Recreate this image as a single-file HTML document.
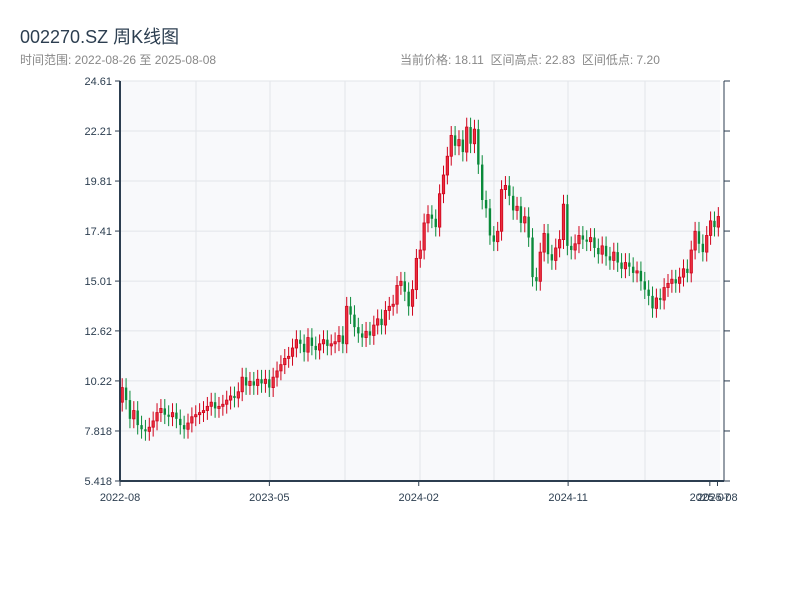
<!DOCTYPE html>
<html><head><meta charset="utf-8">
<style>
body{margin:0;background:#fff;font-family:"Liberation Sans","Noto Sans CJK SC",sans-serif;}
#wrap{position:relative;width:800px;height:600px;overflow:hidden;}
.t{position:absolute;white-space:nowrap;}
</style></head>
<body>
<div id="wrap">
<div class="t" style="left:20px;top:23px;font-size:18px;color:#2c3e50;">002270.SZ 周K线图</div>
<div class="t" style="left:20px;top:51px;font-size:12px;color:#888;">时间范围: 2022-08-26 至 2025-08-08</div>
<div class="t" style="left:400px;top:51px;font-size:12px;color:#888;">当前价格: 18.11&nbsp;&nbsp;区间高点: 22.83&nbsp;&nbsp;区间低点: 7.20</div>
<svg id="chart" width="800" height="600" style="position:absolute;left:0;top:0"></svg>
</div>
<script>
const dates=["2022-08","2023-05","2024-02","2024-11","2025-07","2025-08"];
const dateIdx=[0,39,78,117,154,156];
const yTicks=[5.418,7.818,10.22,12.62,15.01,17.41,19.81,22.21,24.61];
const closes=[9.9,9.3,8.4,8.8,8.1,7.9,7.8,8.0,8.3,8.7,
8.9,8.6,8.5,8.7,8.4,8.1,7.9,8.2,8.5,8.6,
8.7,8.8,9.0,9.2,8.9,9.0,9.1,9.3,9.5,9.4,
9.7,10.4,10.0,10.2,10.0,10.3,10.1,10.3,9.9,10.4,
10.7,11.0,11.3,11.4,11.8,12.2,12.0,11.6,12.3,11.9,
11.7,12.0,12.2,11.9,12.0,12.1,12.4,12.0,13.8,13.4,
12.8,12.5,12.3,12.6,12.4,12.9,13.2,12.9,13.6,13.8,
13.9,14.8,15.0,14.5,13.8,14.6,16.1,16.5,17.8,18.2,
18.0,17.6,19.2,20.1,21.0,22.0,21.5,21.8,21.2,22.4,
21.6,22.3,20.6,18.9,18.5,17.2,16.9,17.4,19.4,19.6,
19.1,18.4,18.6,17.8,18.1,17.1,15.2,15.0,16.4,17.3,
16.3,16.0,16.6,17.0,18.7,16.7,16.5,16.8,17.2,17.0,
16.9,17.1,16.6,16.3,16.7,16.2,16.0,16.4,15.9,15.6,
15.9,15.7,15.4,15.5,15.0,14.6,14.3,13.7,14.2,14.1,
14.7,14.9,15.1,14.9,15.2,15.6,15.4,16.5,17.4,16.8,
16.4,17.2,17.9,17.6,18.11];
const firstOpen=9.2;
const X0=120,X1=720,Y0=81,Y1=481,YMIN=5.418,YMAX=24.61,N=closes.length;
const step=(X1-X0)/N;
const xs=i=>X0+1+i*step;
const ys=v=>Y1-(v-YMIN)/(YMAX-YMIN)*(Y1-Y0);
const svg=document.getElementById('chart');
const NS='http://www.w3.org/2000/svg';
function mk(tag,attrs,parent){const e=document.createElementNS(NS,tag);for(const k in attrs)e.setAttribute(k,attrs[k]);(parent||svg).appendChild(e);return e;}
let e=mk('rect',{x:X0,y:Y0,width:X1-X0,height:Y1-Y0,fill:'#f8f9fb'});


[196,270,345,420,494,568,645].forEach(x=>{
 const g=mk('line',{x1:x,x2:x,y1:Y0,y2:Y1,stroke:'#e2e5ea','stroke-width':1});
 
 
});
yTicks.forEach(v=>{
 const y=ys(v);
 const g=mk('line',{x1:X0,x2:X1,y1:y,y2:y,stroke:'#e2e5ea','stroke-width':1});
 
 
 const tk=mk('line',{x1:X0-5,x2:X0,y1:y,y2:y,stroke:'#2c3e50','stroke-width':1});
 
 
 const tr=mk('line',{x1:X1+4,x2:X1+10,y1:y,y2:y,stroke:'#2c3e50','stroke-width':1});
 
 
 const t=mk('text',{x:X0-8,y:y+4,'text-anchor':'end','font-size':11,fill:'#2c3e50'});
 t.textContent=String(v);
 
 
});
let prev=firstOpen;
closes.forEach((c,i)=>{
 const o=prev;prev=c;
 const up=c>=o;
 const col=up?'#d0021b':'#0a8a3a';
 const hi=Math.max(o,c)+0.45,lo=Math.min(o,c)-0.45;
 const x=xs(i);
 const w=mk('line',{x1:x+1.2,x2:x+1.2,y1:ys(hi),y2:ys(lo),stroke:col,'stroke-width':1});
 
 
 const top=ys(Math.max(o,c)),h=Math.max(1,ys(Math.min(o,c))-top);
 const r=mk('rect',{x:x,y:top,width:2.4,height:h,fill:up?'#e8303f':col,stroke:col,'stroke-width':up?0.8:0});
 
 
});
e=mk('line',{x1:X0,x2:X0,y1:Y0,y2:Y1,stroke:'#2c3e50','stroke-width':2});


e=mk('line',{x1:X1+4,x2:X1+4,y1:Y0,y2:Y1,stroke:'#2c3e50','stroke-width':1});


e=mk('line',{x1:X0,x2:X1+4,y1:Y1,y2:Y1,stroke:'#2c3e50','stroke-width':2});


dates.forEach((d,k)=>{
 const x=X0+dateIdx[k]*3.83;
 const tk=mk('line',{x1:x,x2:x,y1:Y1,y2:Y1+5,stroke:'#2c3e50','stroke-width':1});
 
 
 const t=mk('text',{x:x,y:Y1+20,'text-anchor':'middle','font-size':11,fill:'#2c3e50'});
 t.textContent=d;
 
 
});
</script>
</body></html>
